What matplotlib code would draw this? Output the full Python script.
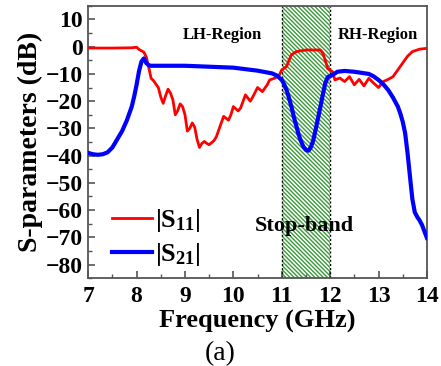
import matplotlib
matplotlib.use("Agg")
import matplotlib.pyplot as plt
from matplotlib.ticker import MultipleLocator

plt.rcParams["font.family"] = ["Liberation Serif", "DejaVu Serif"]
plt.rcParams["font.weight"] = "bold"
plt.rcParams["mathtext.fontset"] = "custom"
plt.rcParams["mathtext.rm"] = "Liberation Serif:bold"
plt.rcParams["mathtext.bf"] = "Liberation Serif:bold"
plt.rcParams["mathtext.default"] = "bf"
plt.rcParams["hatch.linewidth"] = 1.0

# |S11|
s11_freq = [7.0, 7.5, 7.9, 8.0, 8.05, 8.15, 8.2, 8.25, 8.3, 8.35, 8.45, 8.5, 8.55, 8.6, 8.65, 8.7, 8.75,
            8.8, 8.85, 8.9, 8.95, 9.0, 9.05, 9.1, 9.15, 9.2, 9.25, 9.3, 9.35, 9.4, 9.45, 9.5, 9.6,
            9.65, 9.75, 9.8, 9.9, 9.95, 10.0, 10.1, 10.15,
            10.25, 10.35, 10.4, 10.5, 10.6, 10.7, 10.75, 10.85, 10.95, 11.0, 11.1, 11.15, 11.2, 11.3, 11.5,
            11.8, 11.85, 11.9, 11.95, 12.05, 12.1, 12.2, 12.3, 12.4, 12.5, 12.6, 12.7, 12.8,
            12.9, 13.0, 13.1, 13.2, 13.3, 13.4, 13.5, 13.6, 13.7, 13.85, 14.0]
s11_db = [-0.5, -0.5, -0.4, -0.2, -1.0, -2.0, -3.7, -7.5, -11.6, -12.5, -15.0, -18.5, -20.8, -18.0, -15.6, -17.0, -19.5,
          -25.0, -23.5, -21.0, -22.0, -25.0, -31.0, -30.0, -28.0, -29.5, -34.0, -37.0, -35.5, -34.8, -35.5, -36.0, -34.5,
          -33.0, -28.0, -25.6, -27.0, -25.0, -22.0, -23.6, -22.5,
          -17.7, -20.0, -18.5, -15.0, -16.5, -14.0, -12.2, -11.6, -10.4, -8.5, -7.3, -5.0, -3.0, -1.8, -1.2,
          -1.2, -2.4, -5.0, -8.0, -9.2, -12.2, -11.5, -12.8, -11.0, -14.0, -12.0, -14.4, -11.6,
          -13.4, -15.0, -12.8, -12.0, -11.0, -8.5, -6.0, -3.5, -1.8, -0.9, -0.6]

# |S21|
s21_freq = [7.0, 7.1, 7.2, 7.3, 7.4, 7.5, 7.6, 7.7, 7.8, 7.9, 7.95, 8.0, 8.05, 8.1, 8.15, 8.2, 8.25,
            8.3, 9.0, 10.0, 10.5, 10.8, 10.9, 11.0, 11.05, 11.1, 11.15, 11.2, 11.25, 11.3, 11.35, 11.4,
            11.45, 11.5, 11.55, 11.6, 11.65, 11.7, 11.75, 11.8, 11.85, 11.9, 11.95, 12.05,
            12.15, 12.3, 12.5, 12.8, 12.9, 13.0, 13.1, 13.2, 13.3, 13.4, 13.45, 13.5, 13.55, 13.6,
            13.65, 13.7, 13.75, 13.8, 13.85, 13.9, 14.0]
s21_db = [-39.0, -39.5, -39.7, -39.5, -38.8, -37.0, -34.0, -31.0, -27.0, -22.0, -18.3, -14.0, -9.0, -5.5, -4.3, -6.0, -6.8,
          -7.0, -7.0, -7.7, -8.8, -9.8, -10.6, -12.2, -13.8, -15.9, -18.8, -22.0, -25.8, -29.0, -32.3, -34.8,
          -36.8, -37.9, -38.2, -37.0, -34.5, -30.5, -26.3, -22.0, -17.5, -13.4, -11.2, -10.4,
          -9.2, -8.9, -9.2, -10.0, -10.9, -12.2, -13.8, -15.9, -18.7, -22.0, -24.5, -27.5, -31.7, -39.0,
          -47.6, -56.0, -60.8, -62.5, -63.8, -65.5, -70.2]

stop_band = (11, 12)

fig = plt.figure(figsize=(4.41, 3.66), dpi=100)
ax = fig.add_axes([0.2, 0.24, 0.768, 0.744])

ax.axvspan(stop_band[0], stop_band[1], facecolor="white", edgecolor="#3a9a3a",
           hatch="\\\\\\\\\\\\\\\\", linewidth=0, zorder=1)
for x in stop_band:
    ax.axvline(x, color="black", linestyle=(0, (1.5, 1.5)), linewidth=1.0, zorder=2)

ax.plot(s11_freq, s11_db, color="#ff0000", linewidth=2, label="|S$_{11}$|", zorder=3)
ax.plot(s21_freq, s21_db, color="#0000ff", linewidth=3, label="|S$_{21}$|", zorder=3)

ax.set_xlim(7, 14)
ax.set_ylim(-85, 15)
ax.xaxis.set_major_locator(MultipleLocator(1))
ax.xaxis.set_minor_locator(MultipleLocator(0.5))
ax.yaxis.set_major_locator(MultipleLocator(10))
ax.yaxis.set_minor_locator(MultipleLocator(5))
ax.set_yticks(range(-80, 11, 10))
ax.tick_params(axis="both", which="major", direction="in", length=5, width=1.2,
               labelsize=17, pad=4, color="#555555")
ax.tick_params(axis="x", which="major", pad=6)
ax.tick_params(axis="both", which="minor", direction="in", length=3, width=1.0, color="#555555")
for label in ax.get_xticklabels() + ax.get_yticklabels():
    label.set_fontweight("bold")
for spine in ax.spines.values():
    spine.set_color("#555555")
    spine.set_linewidth(1.3)

ax.set_xlabel("Frequency (GHz)", fontsize=19, fontweight="bold", labelpad=2)
ax.set_ylabel("S-parameters (dB)", fontsize=20, fontweight="bold", labelpad=2)

ax.text(9.77, 4.3, "LH-Region", fontsize=12, fontweight="bold", ha="center", va="center")
ax.text(12.99, 4.3, "RH-Region", fontsize=12, fontweight="bold", ha="center", va="center")
ax.text(11.46, -65.7, "Stop-band", fontsize=16, fontweight="bold", ha="center", va="center", zorder=4)

leg = ax.legend(loc="lower left", bbox_to_anchor=(0.0, -0.05), frameon=False,
                fontsize=19, handlelength=1.5, handletextpad=0.15, labelspacing=0.25)

fig.text(0.5, 0.035, "(a)", fontsize=20, fontweight="normal", ha="center", va="center")

fig.savefig("out.png", dpi=100)
